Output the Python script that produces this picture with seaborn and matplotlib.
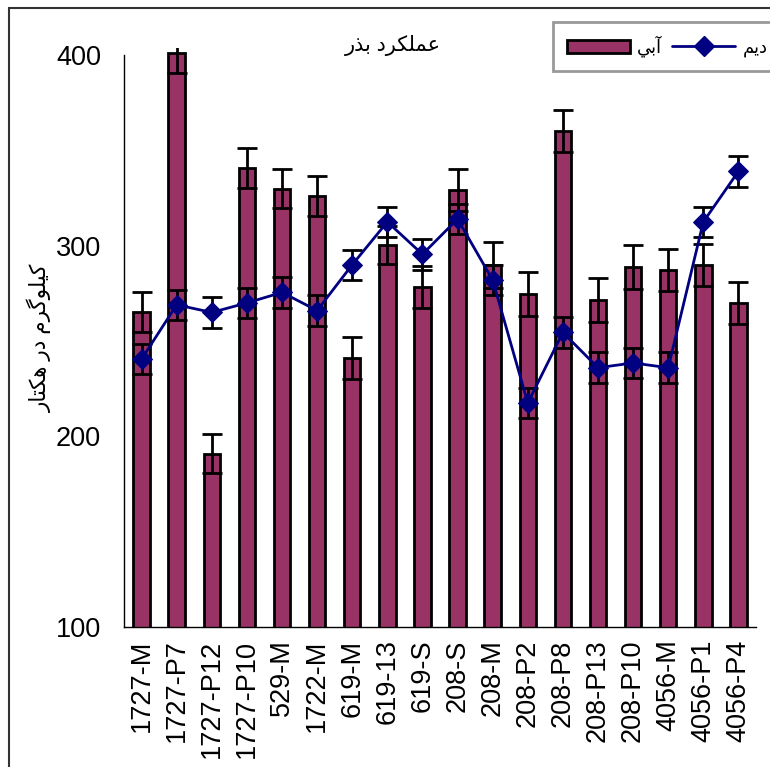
import numpy as np
import pandas as pd
import matplotlib
matplotlib.use("Agg")
import matplotlib.pyplot as plt
from matplotlib.patches import Patch, Rectangle
from matplotlib.lines import Line2D
import seaborn as sns

# ---------------- data ----------------
categories = ["1727-M", "1727-P7", "1727-P12", "1727-P10", "529-M", "1722-M",
              "619-M", "619-13", "619-S", "208-S", "208-M", "208-P2", "208-P8",
              "208-P13", "208-P10", "4056-M", "4056-P1", "4056-P4"]
irrigated = [265, 401, 191, 341, 330, 326, 241, 300.5, 278.5, 329, 290, 274.5,
             360, 271.5, 289, 287.5, 290, 270]
irrigated_err = [10.5, 10.5, 10, 10.5, 10, 10.5, 11, 10, 11, 11, 12, 11.5,
                 11, 11.5, 11.5, 11, 11, 11]
rainfed = [240.5, 269, 265, 270, 275.5, 266, 290, 312.5, 295.5, 314, 282,
           217.5, 254.5, 236, 238.5, 236, 312.5, 339]
rainfed_err = [8] * 18
yticks = [100, 200, 300, 400]

title_text = "عملکرد بذر"
ylabel_text = "کیلوگرم در هکتار"
label_irrigated = "آبي"
label_rainfed = "ديم"

# ---------------- simple Arabic shaping ----------------
FORMS = {
    "ا": (0xFE8D, 0xFE8E, None, None),
    "آ": (0xFE81, 0xFE82, None, None),
    "ب": (0xFE8F, 0xFE90, 0xFE91, 0xFE92),
    "ت": (0xFE95, 0xFE96, 0xFE97, 0xFE98),
    "د": (0xFEA9, 0xFEAA, None, None),
    "ذ": (0xFEAB, 0xFEAC, None, None),
    "ر": (0xFEAD, 0xFEAE, None, None),
    "ع": (0xFEC9, 0xFECA, 0xFECB, 0xFECC),
    "ل": (0xFEDD, 0xFEDE, 0xFEDF, 0xFEE0),
    "م": (0xFEE1, 0xFEE2, 0xFEE3, 0xFEE4),
    "ه": (0xFEE9, 0xFEEA, 0xFEEB, 0xFEEC),
    "و": (0xFEED, 0xFEEE, None, None),
    "ي": (0xFEF1, 0xFEF2, 0xFEF3, 0xFEF4),
    "ی": (0xFBFC, 0xFBFD, 0xFBFE, 0xFBFF),
    "ک": (0xFB8E, 0xFB8F, 0xFB90, 0xFB91),
    "گ": (0xFB92, 0xFB93, 0xFB94, 0xFB95),
}


def shape(text):
    out = []
    n = len(text)
    for i, ch in enumerate(text):
        if ch not in FORMS:
            out.append(ch)
            continue
        f = FORMS[ch]
        prev = text[i - 1] if i > 0 else None
        nxt = text[i + 1] if i < n - 1 else None
        jp = prev in FORMS and FORMS[prev][2] is not None
        jn = f[2] is not None and nxt in FORMS
        if jp and jn:
            cp = f[3]
        elif jp:
            cp = f[1]
        elif jn:
            cp = f[2]
        else:
            cp = f[0]
        out.append(chr(cp))
    return "".join(out[::-1])


# ---------------- style ----------------
sns.set_style("white")
plt.rcParams["font.family"] = ["Liberation Sans", "DejaVu Sans"]
plt.rcParams["text.color"] = "black"
plt.rcParams["xtick.color"] = "black"
plt.rcParams["ytick.color"] = "black"
plt.rcParams["axes.labelcolor"] = "black"

bar_color = "#993366"
line_color = "#000080"

df = pd.DataFrame({"cat": categories, "irr": irrigated, "irr_err": irrigated_err,
                   "rain": rainfed, "rain_err": rainfed_err})
pos = np.arange(len(categories))

fig = plt.figure(figsize=(7.7, 7.67), dpi=100)
ax = fig.add_axes([124 / 770, 1 - 627 / 767, 632 / 770, 579 / 767])

sns.barplot(data=df, x="cat", y="irr", color=bar_color, saturation=1,
            width=0.47, edgecolor="black", linewidth=2.0, ax=ax, zorder=2)
ax.errorbar(pos, df["irr"], yerr=df["irr_err"], fmt="none", ecolor="black",
            elinewidth=2.0, capsize=7, capthick=2.0, zorder=3)

sns.lineplot(x=pos, y=df["rain"], color=line_color, linewidth=2.0,
             marker="D", markersize=10, markeredgecolor=line_color,
             ax=ax, zorder=5, legend=False)
ax.errorbar(pos, df["rain"], yerr=df["rain_err"], fmt="none", ecolor="black",
            elinewidth=2.0, capsize=7, capthick=2.0, zorder=4)

ax.set_xlim(-0.5, len(categories) - 0.5)
ax.set_ylim(100, 403.7)
ax.set_yticks(yticks)
ax.set_xticks(pos)
ax.set_xticklabels(categories, rotation=90)
ax.set_xticks(np.arange(-0.5, len(categories), 1.0), minor=True)
ax.tick_params(axis="x", which="major", length=0, pad=9, labelsize=19.5,
               labelcolor="black")
ax.tick_params(axis="x", which="minor", length=13, width=1, direction="inout",
               color="black")
ax.tick_params(axis="y", which="major", length=15, width=1, direction="inout",
               pad=9, labelsize=19.5, color="black", labelcolor="black")
ax.set_xlabel("")
ax.set_ylabel("")

for s in ["top", "right"]:
    ax.spines[s].set_visible(False)
for s in ["left", "bottom"]:
    ax.spines[s].set_color("black")
    ax.spines[s].set_linewidth(1.0)
ax.spines["left"].set_bounds(100, 400)
ax.grid(False)

fig.text(393 / 770, 1 - 46 / 767, shape(title_text), ha="center", va="center",
         fontsize=15, color="black")
fig.text(40 / 770, 1 - 338 / 767, shape(ylabel_text), ha="center",
         va="center", rotation=90, fontsize=15.5, color="black")

handles = [Patch(facecolor=bar_color, edgecolor="black", linewidth=2.0),
           Line2D([0], [0], color=line_color, linewidth=2.0, marker="D",
                  markersize=10)]
leg = fig.legend(handles, [shape(label_irrigated), shape(label_rainfed)],
                 loc="upper left", bbox_to_anchor=(553 / 770, 1 - 22 / 767),
                 ncol=2, frameon=True, fancybox=False, fontsize=13,
                 handlelength=3.5, handleheight=0.75, columnspacing=0.55,
                 handletextpad=0.4, borderaxespad=0, borderpad=0.75)
leg.get_frame().set_edgecolor("#808080")
leg.get_frame().set_linewidth(2.0)
for t in leg.get_texts():
    t.set_color("black")

fig.patches.append(Rectangle((9 / 770, -0.1), 1.2, 1.1 - 8 / 767,
                             transform=fig.transFigure, fill=False,
                             edgecolor="#333333", linewidth=1.5))

fig.savefig("out.png", dpi=100)
